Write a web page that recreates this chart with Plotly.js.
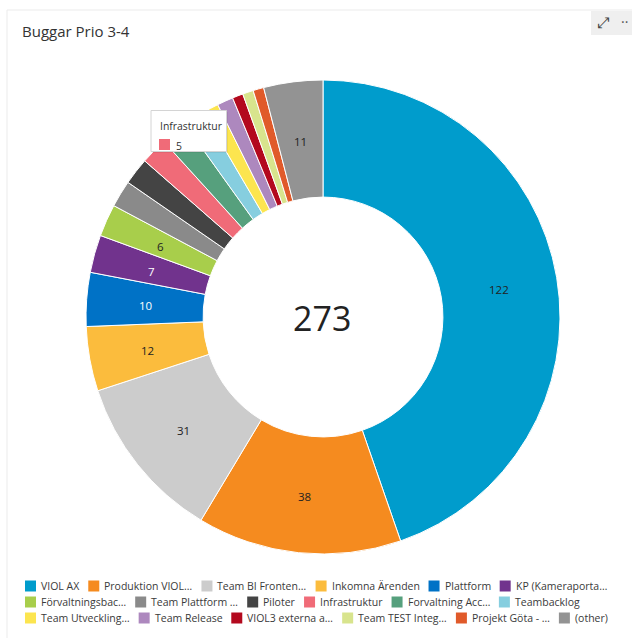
<!DOCTYPE html>
<html><head><meta charset="utf-8">
<script src="https://cdn.plot.ly/plotly-3.0.1.min.js"></script>
<style>html,body{margin:0;padding:0;background:#fff;overflow:hidden}#chart{width:632px;height:638px}</style>
</head><body><div id="chart"></div>
<script>
// ---- data ----
const labels = ["VIOL AX","Produktion VIOL…","Team BI Fronten…","Inkomna Ärenden","Plattform","KP (Kameraporta…",
  "Förvaltningsbac…","Team Plattform …","Piloter","Infrastruktur","Forvaltning Acc…","Teambacklog",
  "Team Utveckling…","Team Release","VIOL3 externa a…","Team TEST Integ…","Projekt Göta - …","(other)"];
const values = [122,38,31,12,10,7,6,5,5,5,5,4,3,3,2,2,2,11];
const colors = ["#009CCC","#F58B1F","#CCCCCC","#FBBC3D","#0072C6","#71338D",
  "#A8CE4B","#8A8A8A","#444444","#F06B78","#56A07D","#86CEDF",
  "#FCE54F","#AD88BE","#B3091E","#D8E48D","#E05A2A","#939393"];
const textColors = ["#222","#222","#222","#222","#fff","#fff","#222","#222","#fff","#222","#222","#222",
  "#222","#222","#fff","#222","#222","#222"];
const chartTitle = "Buggar Prio 3-4";
const tooltipIndex = 9;

// ---- layout helpers ----
const W = 632, H = 638;
const fx = x => x / W, fy = y => 1 - y / H;
const FONT = '"Segoe UI","Open Sans","Noto Sans",sans-serif';
const total = values.reduce((a, b) => a + b, 0);
const HOLE = 0.506;

const ctx = document.createElement('canvas').getContext('2d');
ctx.font = '12px "Open Sans"';
let lfs = 12 * 88 / ctx.measureText("Inkomna Ärenden").width;
lfs = Math.max(10.5, Math.min(12.5, lfs));
ctx.font = '12px "Open Sans"';
let tfs = 12 * 62 / ctx.measureText(labels[tooltipIndex]).width;
tfs = Math.max(9.5, Math.min(12, tfs));
ctx.font = lfs + 'px "Open Sans"';

const shapes = [];
const annotations = [];

// card frame
shapes.push({type:'line', xref:'paper', yref:'paper', x0:fx(7), x1:fx(632), y0:fy(10), y1:fy(10), line:{color:'#ebebeb', width:1}});
shapes.push({type:'line', xref:'paper', yref:'paper', x0:fx(7), x1:fx(7), y0:fy(10), y1:fy(638), line:{color:'#ebebeb', width:1}});
// icon box
shapes.push({type:'rect', xref:'paper', yref:'paper', x0:fx(591), x1:fx(633), y0:fy(11), y1:fy(35), fillcolor:'#efefef', line:{width:0}});
annotations.push({xref:'paper', yref:'paper', x:fx(603), y:fy(23), text:'⤢', showarrow:false, font:{family:'DejaVu Sans', size:15, color:'#444'}, xanchor:'center', yanchor:'middle'});
annotations.push({xref:'paper', yref:'paper', x:fx(619), y:fy(22), text:'··', showarrow:false, font:{family:FONT, size:14, color:'#555'}, xanchor:'left', yanchor:'middle'});

// center total
annotations.push({xref:'paper', yref:'paper', x:fx(322), y:fy(318), text:String(total), showarrow:false,
  font:{family:FONT, size:34, color:'#222'}, xanchor:'center', yanchor:'middle'});

// pie geometry
const cx = 323, cy = 317, R = 237;
const rMid = R * (1 + HOLE) / 2;

// slice value labels at ring middle (derived from values)
let cum = 0;
values.forEach((v, i) => {
  const mid = (cum + v / 2) / total * 2 * Math.PI;
  cum += v;
  if (v < 6) return;
  annotations.push({xref:'paper', yref:'paper', x:fx(cx + rMid * Math.sin(mid)), y:fy(cy - rMid * Math.cos(mid) + 2),
    text:String(v), showarrow:false, xanchor:'center', yanchor:'middle',
    font:{family:FONT, size:11.5, color:textColors[i]}});
});

// legend (flowed from labels/colors)
let lx = 25, ly = 586;
labels.forEach((lab, i) => {
  const tw = ctx.measureText(lab).width;
  const itemW = 16 + tw;
  if (lx + itemW > 612 && lx > 25) { lx = 25; ly += 16; }
  shapes.push({type:'rect', xref:'paper', yref:'paper', x0:fx(lx), x1:fx(lx + 11), y0:fy(ly - 5.5), y1:fy(ly + 5.5),
    fillcolor:colors[i], line:{width:0}});
  annotations.push({xref:'paper', yref:'paper', x:fx(lx + 14), y:fy(ly), text:lab, showarrow:false,
    font:{family:FONT, size:lfs, color:'#3a3a3a'}, xanchor:'left', yanchor:'middle'});
  lx += itemW + 9;
});

// tooltip
shapes.push({type:'rect', xref:'paper', yref:'paper', x0:fx(152), x1:fx(228), y0:fy(112), y1:fy(153), fillcolor:'rgba(0,0,0,0.06)', line:{width:0}, layer:'above'});
shapes.push({type:'rect', xref:'paper', yref:'paper', x0:fx(151), x1:fx(226.5), y0:fy(110.5), y1:fy(151.5), fillcolor:'#ffffff', line:{color:'#d4d4d4', width:1}, layer:'above'});
shapes.push({type:'rect', xref:'paper', yref:'paper', x0:fx(159), x1:fx(170), y0:fy(139), y1:fy(150), fillcolor:colors[tooltipIndex], line:{width:0}, layer:'above'});
annotations.push({xref:'paper', yref:'paper', x:fx(157.5), y:fy(126), text:labels[tooltipIndex], showarrow:false,
  font:{family:FONT, size:tfs, color:'#333'}, xanchor:'left', yanchor:'middle'});
annotations.push({xref:'paper', yref:'paper', x:fx(173.5), y:fy(145.5), text:String(values[tooltipIndex]), showarrow:false,
  font:{family:FONT, size:tfs, color:'#333'}, xanchor:'left', yanchor:'middle'});

const trace = {
  type:'pie', labels:labels, values:values, textinfo:'none',
  sort:false, direction:'clockwise', rotation:0, hole:HOLE,
  marker:{colors:colors, line:{color:'#ffffff', width:1}},
  hoverinfo:'none', showlegend:false,
  domain:{x:[(cx - R) / W, (cx + R) / W], y:[1 - (cy + R) / H, 1 - (cy - R) / H]}
};

const layout = {
  width:W, height:H, margin:{l:0, r:0, t:0, b:0},
  paper_bgcolor:'#ffffff', plot_bgcolor:'#ffffff',
  title:{text:chartTitle, x:fx(22), xanchor:'left', xref:'paper', y:fy(32), yanchor:'middle', yref:'container',
    font:{family:FONT, size:15, color:'#333'}},
  showlegend:false, shapes:shapes, annotations:annotations
};
Plotly.newPlot('chart', [trace], layout, {displayModeBar:false, staticPlot:true});
</script></body></html>
